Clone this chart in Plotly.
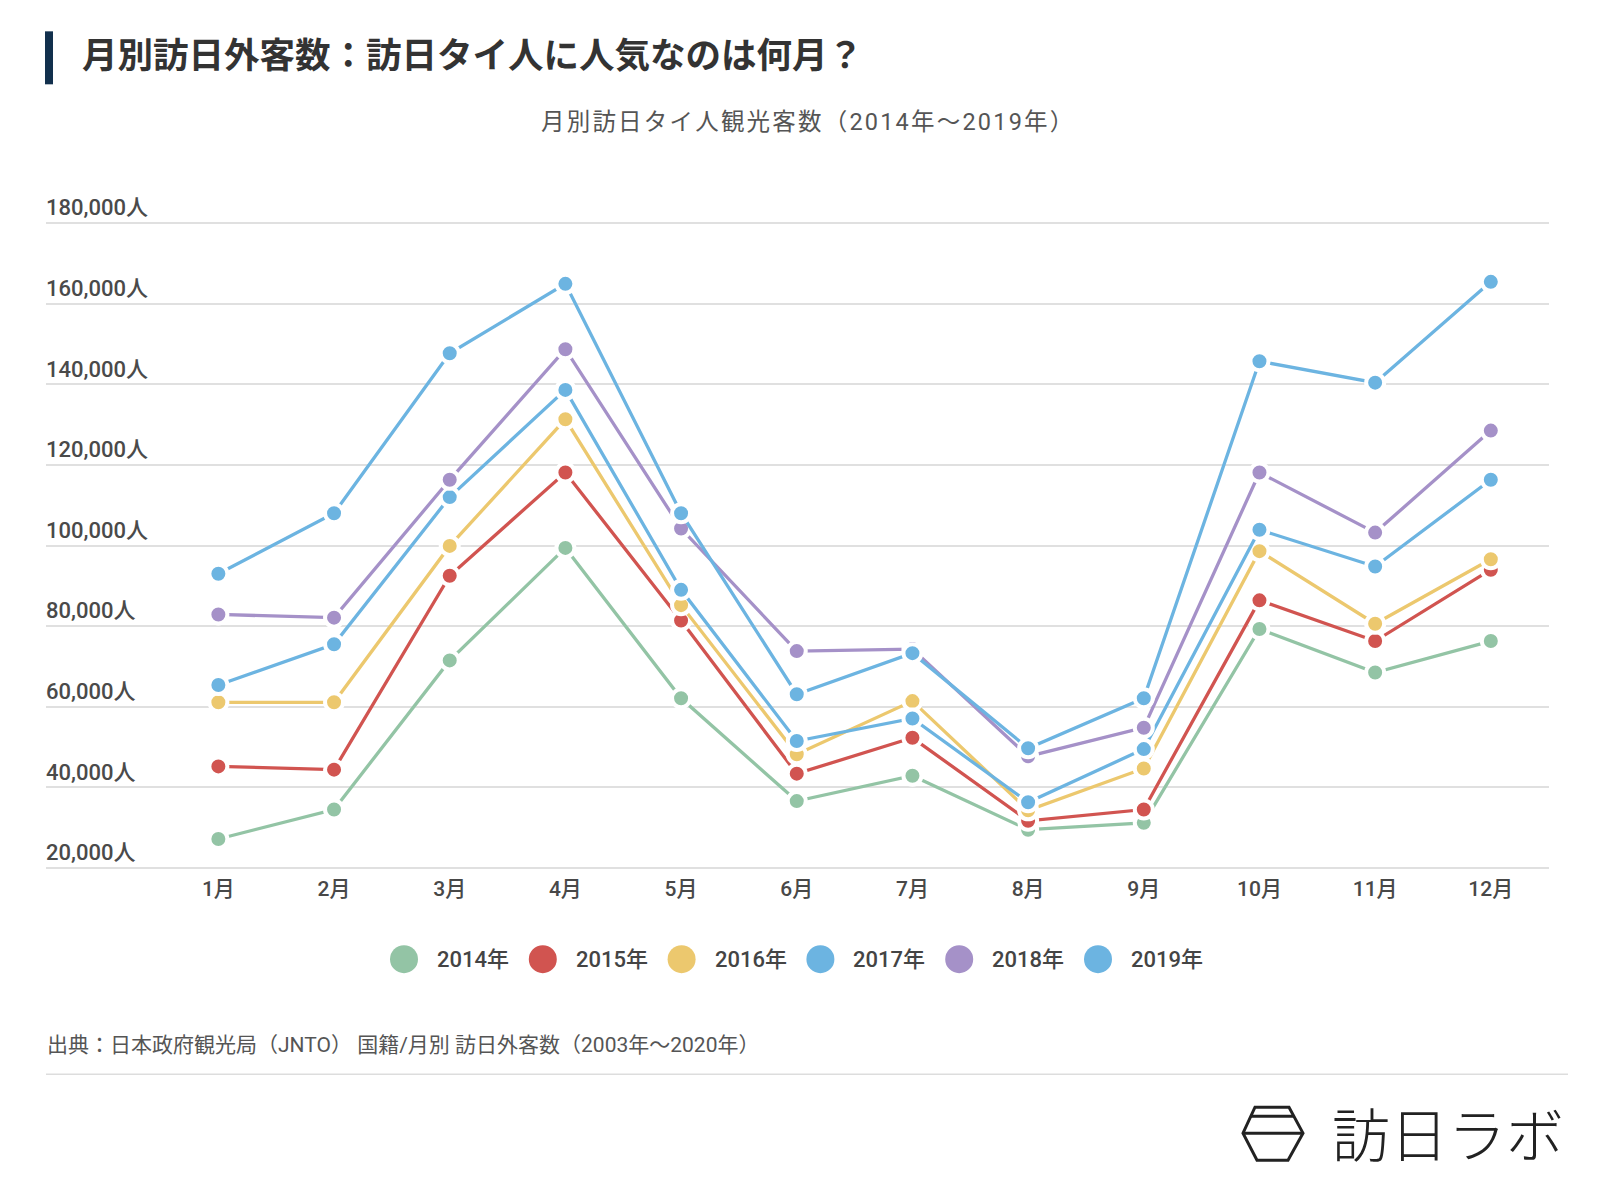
import plotly.graph_objects as go

# ---------------- data ----------------
months = ["1月", "2月", "3月", "4月", "5月", "6月", "7月", "8月", "9月", "10月", "11月", "12月"]
years = ["2014年", "2015年", "2016年", "2017年", "2018年", "2019年"]

v2014 = [27200, 34500, 71500, 99400, 62100, 36600, 42900, 29500, 31200, 79300, 68500, 76300]
v2015 = [45200, 44400, 92500, 118100, 81400, 43400, 52300, 31700, 34500, 86400, 76300, 94000]
v2016 = [61100, 61100, 99900, 131300, 85200, 48200, 61400, 34300, 44700, 98600, 80600, 96600]
v2017 = [65400, 75500, 112000, 138600, 89000, 51500, 57100, 36300, 49500, 103900, 94800, 116300]
v2018 = [82900, 82100, 116300, 148700, 104200, 73800, 74300, 47700, 54800, 118100, 103200, 128500]
v2019 = [93000, 108000, 147700, 164900, 108000, 63100, 73300, 49700, 62100, 145700, 140400, 165400]
series = [v2014, v2015, v2016, v2017, v2018, v2019]

y_ticks = [20000, 40000, 60000, 80000, 100000, 120000, 140000, 160000, 180000]
y_tick_labels = ["20,000人", "40,000人", "60,000人", "80,000人", "100,000人",
                 "120,000人", "140,000人", "160,000人", "180,000人"]

title_text = "月別訪日外客数：訪日タイ人に人気なのは何月？"
subtitle_text = "月別訪日タイ人観光客数（2014年～2019年）"
source_text = "出典：日本政府観光局（JNTO） 国籍/月別 訪日外客数（2003年～2020年）"
logo_text = "訪日ラボ"

# ---------------- style ----------------
colors = ["#93c4a5", "#d15450", "#ecc86e", "#6cb4e1", "#a591c8", "#6cb4e1"]
FONT = "Roboto, 'Noto Sans CJK JP', sans-serif"

W, H = 1600, 1191
# pixel positions of the 180,000 and 20,000 grid lines, plus a small padding
Y_TOP, Y_BOT = 222.7, 867.8
PAD = 4
L, R, T, B = 46, 1549, Y_TOP - PAD, Y_BOT + PAD
units_per_px = (180000 - 20000) / (Y_BOT - Y_TOP)
y_range = [20000 - PAD * units_per_px, 180000 + PAD * units_per_px]


def px(x):
    return (x - L) / (R - L)


def py(y):
    return (B - y) / (B - T)


def spaced(text, sp):
    return f'<span style="letter-spacing:{sp}px">{text}</span>'


fig = go.Figure()
for name, vals, c in zip(years, series, colors):
    fig.add_trace(go.Scatter(
        x=months, y=vals, mode="lines+markers", name=name,
        line=dict(color=c, width=3.3),
        marker=dict(size=18, color=c, line=dict(color="white", width=4)),
        showlegend=False,
        hovertemplate="%{x}: %{y:,}人<extra>" + name + "</extra>",
    ))

fig.update_layout(
    width=W, height=H,
    margin=dict(l=L, r=W - R, t=T, b=H - B, pad=0),
    paper_bgcolor="white", plot_bgcolor="white",
    font=dict(family=FONT, color="#444"),
    showlegend=False,
)

fig.update_xaxes(
    type="category", range=[-1.49, 11.503],
    showgrid=False, zeroline=False, showline=False, ticks="",
    tickfont=dict(size=21, color="#484848", family=FONT, weight=500),
    ticklabelstandoff=2,
)
fig.update_yaxes(
    range=y_range, tickvals=y_ticks, ticktext=y_tick_labels,
    showgrid=True, gridcolor="#e0e0e0", gridwidth=2,
    zeroline=False, showline=False, ticks="",
    ticklabelposition="inside top", ticklabelstandoff=-3,
    ticklabeloverflow="allow",
    tickfont=dict(size=22, color="#4a4a4a", family=FONT, weight=500),
)

shapes = []
annotations = []

# title bar
shapes.append(dict(type="rect", xref="paper", yref="paper",
                   x0=px(45), x1=px(53), y0=py(84), y1=py(31),
                   fillcolor="#12304d", line=dict(width=0)))
annotations.append(dict(text="<b>" + title_text + "</b>", xref="paper", yref="paper",
                        x=px(80), y=py(56), xanchor="left", yanchor="middle",
                        showarrow=False, font=dict(size=35.5, color="#333", family=FONT)))
annotations.append(dict(text=spaced(subtitle_text, 2.2), xref="paper", yref="paper",
                        x=px(808), y=py(122), xanchor="center", yanchor="middle",
                        showarrow=False, font=dict(size=23.5, color="#555", family=FONT)))

# manual legend
leg_x0, leg_step, leg_y, rad = 404, 138.8, 959, 14
for i, (name, c) in enumerate(zip(years, colors)):
    cx = leg_x0 + i * leg_step
    shapes.append(dict(type="circle", xref="paper", yref="paper",
                       x0=px(cx - rad), x1=px(cx + rad), y0=py(leg_y + rad), y1=py(leg_y - rad),
                       fillcolor=c, line=dict(width=0)))
    annotations.append(dict(text=name, xref="paper", yref="paper",
                            x=px(cx + 31), y=py(leg_y), xanchor="left", yanchor="middle",
                            showarrow=False, font=dict(size=22, color="#444", family=FONT, weight=500)))

# source
annotations.append(dict(text=source_text, xref="paper", yref="paper",
                        x=px(45), y=py(1045), xanchor="left", yanchor="middle",
                        showarrow=False, font=dict(size=21, color="#555", family=FONT)))
shapes.append(dict(type="line", xref="paper", yref="paper",
                   x0=px(46), x1=px(1568), y0=py(1074), y1=py(1074),
                   line=dict(color="#dddddd", width=1.5)))

# logo hexagon
hex_pts = [(1255, 1107), (1289, 1107), (1303, 1133), (1288, 1160), (1257, 1160), (1243, 1133)]
path = "M " + " L ".join(f"{px(x)},{py(y)}" for x, y in hex_pts) + " Z"
shapes.append(dict(type="path", xref="paper", yref="paper", path=path,
                   line=dict(color="#222", width=3), fillcolor="rgba(0,0,0,0)"))
shapes.append(dict(type="line", xref="paper", yref="paper",
                   x0=px(1250), x1=px(1294), y0=py(1116), y1=py(1116),
                   line=dict(color="#222", width=3)))
shapes.append(dict(type="line", xref="paper", yref="paper",
                   x0=px(1243), x1=px(1303), y0=py(1133), y1=py(1133),
                   line=dict(color="#222", width=3)))
annotations.append(dict(text=logo_text, xref="paper", yref="paper",
                        x=px(1448), y=py(1132), xanchor="center", yanchor="middle",
                        showarrow=False,
                        font=dict(size=58, color="#222", family="'Noto Sans CJK JP'", weight=200)))

fig.update_layout(shapes=shapes, annotations=annotations)
fig.write_html("out.html")
